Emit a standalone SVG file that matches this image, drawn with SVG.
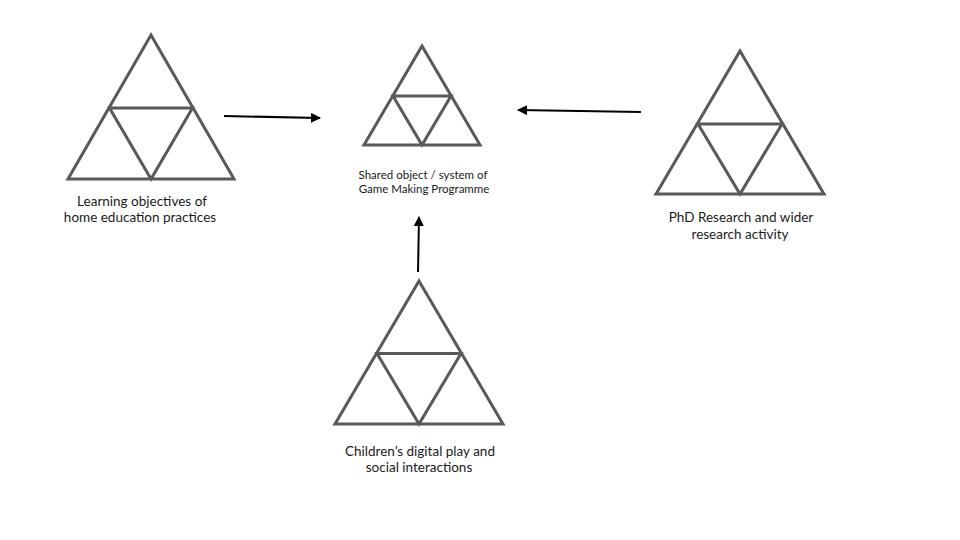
<svg xmlns="http://www.w3.org/2000/svg" width="960" height="540" viewBox="0 0 960 540">
<style>
.tri{fill:none;stroke:#595959;stroke-width:3;stroke-linejoin:miter}
.lbl{font-family:Lato,"Liberation Sans",sans-serif;font-size:13.5px;fill:#1a1a1a;text-anchor:middle}
.sm{font-size:11.5px}
.arr{stroke:#000;stroke-width:2;fill:none;marker-end:url(#ah)}
</style>
<defs>
<marker id="ah" viewBox="0 0 10 10" refX="9" refY="5" markerWidth="5" markerHeight="5" orient="auto" markerUnits="strokeWidth">
<path d="M0,0 L10,5 L0,10 z" fill="#000"/>
</marker>
</defs>
<rect width="960" height="540" fill="#fff"/>
<g id="node-learning">
<path class="tri" d="M151,35 L234,179 L68,179 Z M109.5,108 L192.5,108 L151,179 Z"/>
<text class="lbl" x="142" y="206">Learning objectives of</text>
<text class="lbl" x="140" y="222">home education practices</text>
</g>
<g id="node-shared">
<path class="tri" d="M422,46 L480,145 L364,145 Z M393,96 L451,96 L422,145 Z"/>
<text class="lbl sm" x="423" y="179">Shared object / system of</text>
<text class="lbl sm" x="424" y="193">Game Making Programme</text>
</g>
<g id="node-phd">
<path class="tri" d="M740,51 L824,194 L656,194 Z M698,124 L782,124 L740,194 Z"/>
<text class="lbl" x="741" y="222">PhD Research and wider</text>
<text class="lbl" x="740" y="239">research activity</text>
</g>
<g id="node-children">
<path class="tri" d="M419,281 L503,424 L335,424 Z M377,353.5 L461,353.5 L419,424 Z"/>
<text class="lbl" x="420" y="456">Children’s digital play and</text>
<text class="lbl" x="419" y="472">social interactions</text>
</g>
<g id="connectors">
<line class="arr" x1="224" y1="116" x2="320" y2="118"/>
<line class="arr" x1="641" y1="112" x2="518" y2="110"/>
<line class="arr" x1="418" y1="272" x2="419" y2="217"/>
</g>
</svg>
